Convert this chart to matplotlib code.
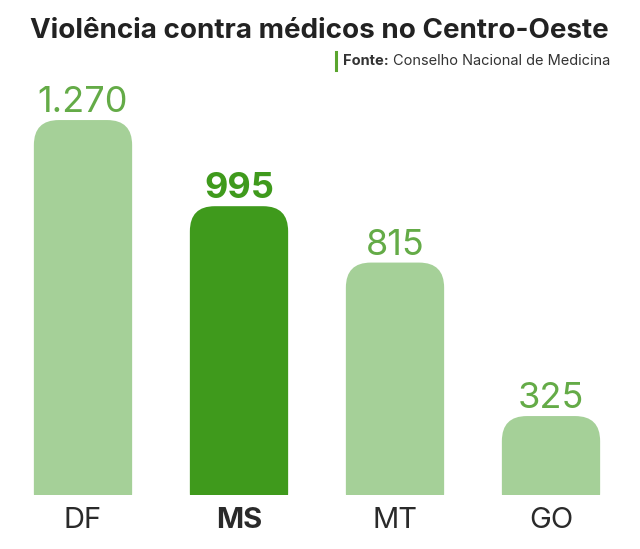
import matplotlib.pyplot as plt
from matplotlib.patches import FancyBboxPatch

# dados
estados = ['DF', 'MS', 'MT', 'GO']
casos = [1270, 995, 815, 325]
rotulos = ['1.270', '995', '815', '325']
destaque = 'MS'

verde_claro = '#a5d098'
verde_escuro = '#3f9a1c'
verde_texto = '#64ab47'

plt.rcParams['font.family'] = ['Inter', 'DejaVu Sans']

fig = plt.figure(figsize=(6.4, 5.49), dpi=100)
ax = fig.add_axes([5 / 640, 1 - 495 / 549, 624 / 640, 395 / 549])
ax.set_xlim(-0.5, 3.5)
ax.set_ylim(73, 1334)

largura = 0.63
r = 0.16
for i, (est, v, rot) in enumerate(zip(estados, casos, rotulos)):
    forte = est == destaque
    cor = verde_escuro if forte else verde_claro
    p = FancyBboxPatch((i - largura / 2, 0), largura, v,
                       boxstyle=f'round,pad=0,rounding_size={r}',
                       mutation_aspect=500, fc=cor, ec='none')
    ax.add_patch(p)
    ax.text(i, v + 25, rot, ha='center', va='baseline', fontsize=26,
            color=verde_escuro if forte else verde_texto,
            fontweight='bold' if forte else 'normal')
    ax.text(i, 73 - 25 / 0.3132, est, ha='center', va='center', fontsize=21,
            color='#2a2a2a', fontweight='bold' if forte else 'normal',
            clip_on=False)

ax.axis('off')

fig.text(319 / 640, 1 - 31 / 549, 'Violência contra médicos no Centro-Oeste',
         ha='center', va='center', fontsize=20, fontweight='bold', color='#222222')

# fonte, alinhada à direita
t2 = fig.text(610 / 640, 1 - 61 / 549, 'Conselho Nacional de Medicina', ha='right',
              va='center', fontsize=10.5, color='#333333')
fig.canvas.draw()
bb = t2.get_window_extent()
x_fonte = bb.x0 - 4
t1 = fig.text(x_fonte / 640, 1 - 61 / 549, 'Fonte:', ha='right', va='center',
              fontsize=10.5, fontweight='bold', color='#333333')
fig.canvas.draw()
bb1 = t1.get_window_extent()
xl = (bb1.x0 - 7) / 640
fig.add_artist(plt.Line2D([xl, xl], [1 - 52 / 549, 1 - 70 / 549],
                          color='#5aa52e', lw=2.2))

fig.savefig('out.png', dpi=100, facecolor='white')
